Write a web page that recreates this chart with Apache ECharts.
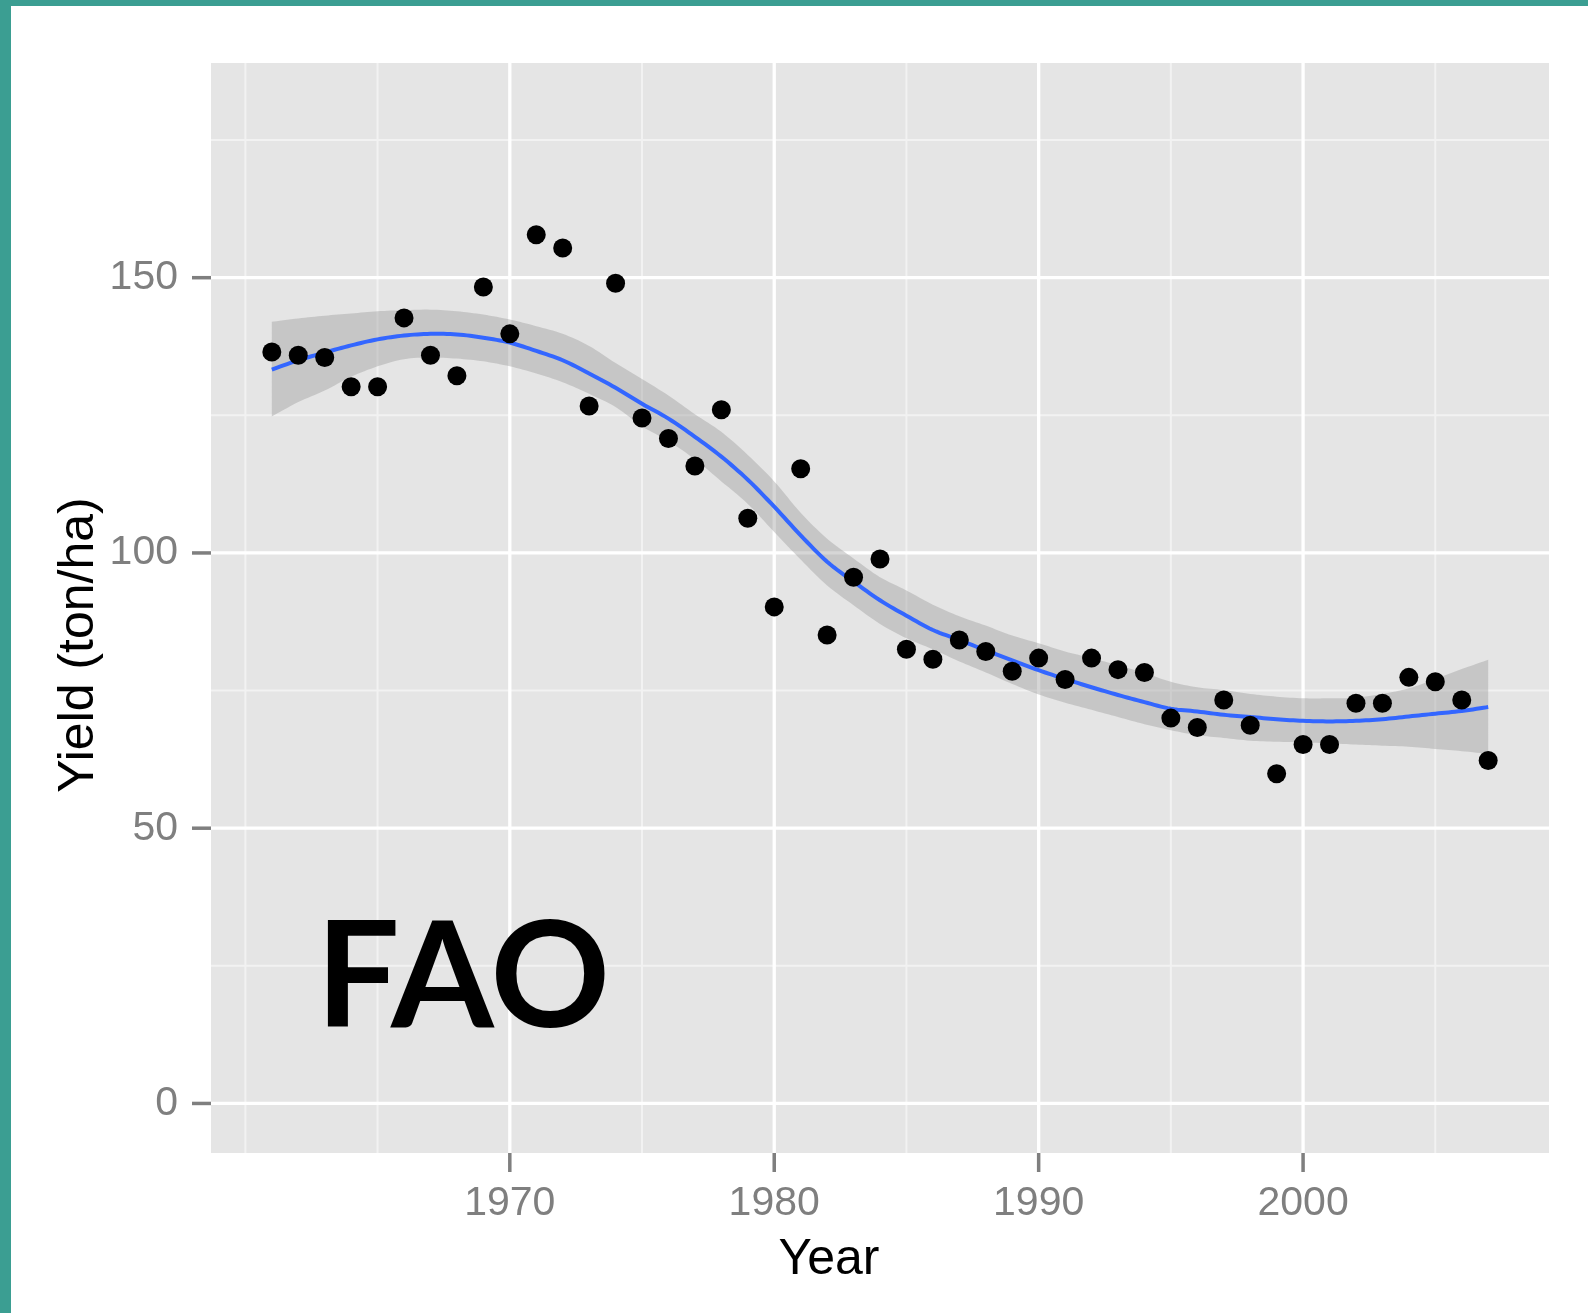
<!DOCTYPE html>
<html>
<head>
<meta charset="utf-8">
<script src="https://cdn.jsdelivr.net/npm/echarts@6/dist/echarts.min.js"></script>
<style>
html,body{margin:0;padding:0;background:#fff;}
#c{width:1588px;height:1313px;}
</style>
</head>
<body>
<div id="c"></div>
<script>
const years = [1961,1962,1963,1964,1965,1966,1967,1968,1969,1970,1971,1972,1973,1974,1975,1976,1977,1978,1979,1980,1981,1982,1983,1984,1985,1986,1987,1988,1989,1990,1991,1992,1993,1994,1995,1996,1997,1998,1999,2000,2001,2002,2003,2004,2005,2006,2007];
const yieldValues = [136.5,135.9,135.5,130.2,130.2,142.7,135.9,132.2,148.3,139.8,157.8,155.4,126.7,149.0,124.5,120.8,115.8,126.0,106.3,90.2,115.3,85.1,95.6,98.9,82.5,80.7,84.2,82.1,78.5,80.9,77.0,80.9,78.8,78.3,70.0,68.3,73.3,68.7,59.9,65.2,65.2,72.7,72.7,77.4,76.6,73.3,62.3];
const smoothFit = [133.3,135.0,136.4,137.7,138.8,139.5,139.8,139.7,139.1,138.2,136.7,135.0,132.6,130.0,127.1,124.4,121.1,117.5,113.3,108.4,103.2,98.4,94.8,91.4,88.6,86.0,84.2,82.3,80.5,78.7,77.1,75.6,74.2,72.9,71.7,71.2,70.6,70.2,69.8,69.5,69.4,69.5,69.8,70.3,70.8,71.3,72.0];
const smoothUpper = [142.0,142.6,143.1,143.5,143.9,144.1,144.2,143.9,143.3,142.4,141.2,139.8,137.6,134.5,131.6,128.6,125.2,122.0,117.8,113.0,107.3,102.6,99.0,95.6,93.2,90.6,88.5,86.8,85.0,83.6,82.1,80.9,79.6,78.2,76.6,75.6,75.1,74.4,73.9,73.6,73.6,73.7,74.4,75.4,77.1,78.9,80.6];
const smoothLower = [124.8,127.4,129.5,132.0,133.9,135.2,135.5,135.3,134.8,133.9,132.6,131.0,128.9,126.5,123.0,120.3,117.0,113.0,108.9,103.8,98.8,94.1,90.5,87.1,84.5,82.5,80.3,78.3,76.2,74.3,72.8,71.5,70.2,68.9,67.8,66.9,66.4,65.9,65.7,65.6,65.4,65.2,65.0,64.8,64.4,64.0,63.5];
const xTickLabels = [1970,1980,1990,2000];
const xMinorGrid = [1960,1965,1975,1985,1995,2005];
const yTickLabels = [0,50,100,150];
const yMinorGrid = [25,75,125,175];

const chart = echarts.init(document.getElementById('c'));
const FONT = '"Liberation Sans", Arial, Helvetica, sans-serif';
const TICK_COLOR = '#7f7f7f';

const gridData = [];
xMinorGrid.forEach(v => gridData.push([v, 'x', 'minor']));
yMinorGrid.forEach(v => gridData.push([v, 'y', 'minor']));
xTickLabels.forEach(v => gridData.push([v, 'x', 'major']));
yTickLabels.forEach(v => gridData.push([v, 'y', 'major']));

function gridRender(params, api) {
  const cs = params.coordSys;
  const v = api.value(0);
  const dir = gridData[params.dataIndex][1];
  const kind = gridData[params.dataIndex][2];
  const style = kind === 'major' ? {stroke:'#ffffff', lineWidth:3.3} : {stroke:'#f2f2f2', lineWidth:2};
  const children = [];
  if (dir === 'x') {
    const p = api.coord([v, 0]);
    children.push({type:'line', shape:{x1:p[0], y1:cs.y, x2:p[0], y2:cs.y + cs.height}, style: style});
  } else {
    const p = api.coord([1980, v]);
    children.push({type:'line', shape:{x1:cs.x, y1:p[1], x2:cs.x + cs.width, y2:p[1]}, style: style});
    if (kind === 'major') children.push({type:'line', shape:{x1:cs.x - 19, y1:p[1], x2:cs.x, y2:p[1]}, style:{stroke:TICK_COLOR, lineWidth:3.5}});
  }
  return {type:'group', children: children, silent:true};
}

// Catmull-Rom smoothing in pixel space (rendering only)
function smoothPts(pts) {
  const out = [];
  const n = pts.length;
  for (let i = 0; i < n - 1; i++) {
    const p0 = pts[Math.max(i - 1, 0)], p1 = pts[i], p2 = pts[i + 1], p3 = pts[Math.min(i + 2, n - 1)];
    const steps = 8;
    for (let s = 0; s < steps; s++) {
      const t = s / steps, t2 = t * t, t3 = t2 * t;
      const f = k => 0.5 * ((2 * p1[k]) + (-p0[k] + p2[k]) * t + (2 * p0[k] - 5 * p1[k] + 4 * p2[k] - p3[k]) * t2 + (-p0[k] + 3 * p1[k] - 3 * p2[k] + p3[k]) * t3);
      out.push([f(0), f(1)]);
    }
  }
  out.push(pts[n - 1]);
  return out;
}

function ribbonRender(params, api) {
  const up = smoothPts(years.map((y, i) => api.coord([y, smoothUpper[i]])));
  const lo = smoothPts(years.map((y, i) => api.coord([y, smoothLower[i]])));
  return {type:'polygon', shape:{points: up.concat(lo.reverse())}, style:{fill:'rgba(153,153,153,0.4)'}, silent:true};
}

function fitRender(params, api) {
  const pts = smoothPts(years.map((y, i) => api.coord([y, smoothFit[i]])));
  return {type:'polyline', shape:{points: pts}, style:{stroke:'#3366ff', lineWidth:4, fill:null, lineJoin:'round', lineCap:'butt'}, silent:true};
}

const baseGraphic = [
  {type: 'rect', left: 0, top: 0, shape: {width: 1588, height: 6}, style: {fill: '#3b9e92'}, z: 100},
  {type: 'rect', left: 0, top: 0, shape: {width: 11, height: 1313}, style: {fill: '#3b9e92'}, z: 100},
  {type: 'text', x: 829, y: 1260, style: {text: 'Year', fill: '#000', font: '50px ' + FONT, align: 'center', verticalAlign: 'middle'}, z: 100},
  {type: 'text', x: 79, y: 645, rotation: Math.PI / 2, style: {text: 'Yield (ton/ha)', fill: '#000', font: '50px ' + FONT, align: 'center', verticalAlign: 'middle'}, z: 100},
  {type: 'text', x: 463, y: 979, style: {text: 'FAO', fill: '#000', font: 'bold 148px Lato, "Open Sans", sans-serif', align: 'center', verticalAlign: 'middle'}, z: 100}
];

chart.setOption({
  animation: false,
  backgroundColor: '#ffffff',
  grid: {left: 211, right: 39, top: 63, bottom: 160, show: true, backgroundColor: '#e5e5e5', borderWidth: 0},
  xAxis: {
    type: 'value', min: 1958.7, max: 2009.3,
    axisLine: {show: false, onZero: false},
    splitLine: {show: false},
    axisTick: {show: false},
    axisLabel: {customValues: xTickLabels, color: '#7f7f7f', fontSize: 41, fontFamily: FONT, margin: 30, formatter: v => String(v)}
  },
  yAxis: {
    type: 'value', min: -9, max: 189,
    axisLine: {show: false, onZero: false},
    splitLine: {show: false},
    axisTick: {show: false},
    axisLabel: {customValues: yTickLabels, color: '#7f7f7f', fontSize: 41, fontFamily: FONT, margin: 33, formatter: v => String(v)}
  },
  series: [
    {type: 'custom', renderItem: gridRender, data: gridData.map(d => [d[0]]), z: 0, silent: true, clip: false},
    {type: 'custom', renderItem: ribbonRender, data: [[years[0]]], z: 1, silent: true, clip: true},
    {type: 'custom', renderItem: fitRender, data: [[years[0]]], z: 2, silent: true, clip: true},
    {type: 'scatter', data: years.map((y, i) => [y, yieldValues[i]]), symbolSize: 19, itemStyle: {color: '#000000', opacity: 1}, z: 3, silent: true}
  ],
  graphic: baseGraphic
});

// x-axis tick marks placed through the axis scale
const bottomY = chart.convertToPixel({yAxisIndex: 0}, -9);
const xTickGraphics = xTickLabels.map(v => {
  const px = chart.convertToPixel({xAxisIndex: 0}, v);
  return {type: 'line', shape: {x1: px, y1: bottomY, x2: px, y2: bottomY + 19}, style: {stroke: TICK_COLOR, lineWidth: 3.5}, z: 50};
});
chart.setOption({graphic: baseGraphic.concat(xTickGraphics)}, {replaceMerge: ['graphic']});
</script>
</body>
</html>
